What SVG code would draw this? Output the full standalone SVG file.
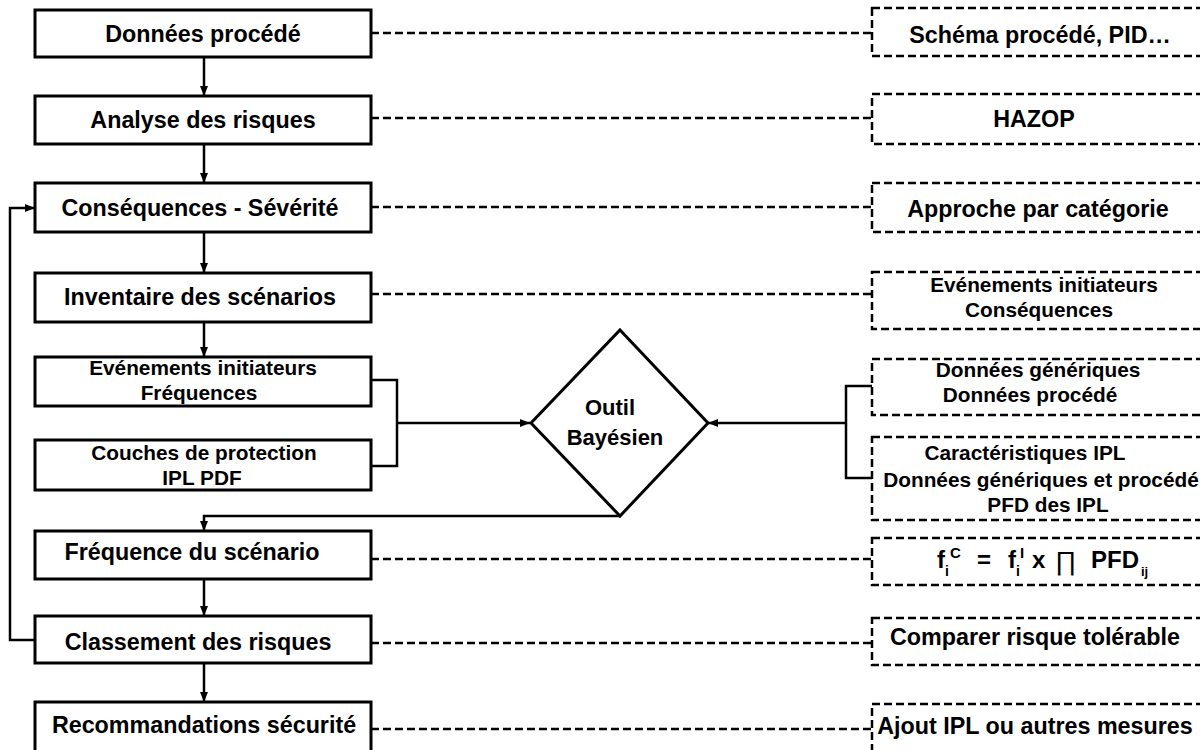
<svg xmlns="http://www.w3.org/2000/svg" width="1200" height="750" viewBox="0 0 1200 750">
<defs>
<marker id="arr" viewBox="0 0 10 10" refX="10" refY="5" markerWidth="10" markerHeight="10" markerUnits="userSpaceOnUse" orient="auto">
<path d="M0,1 L10,5 L0,9 Z" fill="#000"/>
</marker>
<style>
.box{fill:#fff;stroke:#000;stroke-width:3}
.dbox{fill:#fff;stroke:#000;stroke-width:2.5;stroke-dasharray:8 4}
.ln{fill:none;stroke:#000;stroke-width:2.5}
.dl{fill:none;stroke:#000;stroke-width:2.5;stroke-dasharray:8 4}
text{font-family:"Liberation Sans",Arial,sans-serif;font-weight:bold;fill:#000}
.t22{font-size:23.3px;text-anchor:middle}
.t20{font-size:20.8px;text-anchor:middle}
.f{font-size:24px}
.sub{font-size:14px}
</style>
</defs>
<rect width="1200" height="750" fill="#fff"/>

<g id="connectors">
<line class="ln" x1="204" y1="57" x2="204" y2="96" marker-end="url(#arr)"/>
<line class="ln" x1="204" y1="144" x2="204" y2="183" marker-end="url(#arr)"/>
<line class="ln" x1="204" y1="232" x2="204" y2="273" marker-end="url(#arr)"/>
<line class="ln" x1="204" y1="322" x2="204" y2="357" marker-end="url(#arr)"/>
<line class="ln" x1="204" y1="579" x2="204" y2="616" marker-end="url(#arr)"/>
<line class="ln" x1="204" y1="663" x2="204" y2="702" marker-end="url(#arr)"/>
<polyline class="ln" points="35,640 10,640 10,208 35,208" marker-end="url(#arr)"/>
<polyline class="ln" points="371,380 397,380 397,466 371,466"/>
<line class="ln" x1="397" y1="423" x2="530" y2="423" marker-end="url(#arr)"/>
<polyline class="ln" points="620,516 204,516 204,531" marker-end="url(#arr)"/>
<polyline class="ln" points="872,386 846,386 846,478 872,478"/>
<line class="ln" x1="846" y1="423" x2="708" y2="423" marker-end="url(#arr)"/>
<line class="dl" x1="371" y1="33" x2="872" y2="33"/>
<line class="dl" x1="371" y1="118" x2="872" y2="118"/>
<line class="dl" x1="371" y1="207" x2="872" y2="207"/>
<line class="dl" x1="371" y1="294" x2="872" y2="294"/>
<line class="dl" x1="371" y1="559" x2="872" y2="559"/>
<line class="dl" x1="371" y1="643" x2="872" y2="643"/>
<line class="dl" x1="371" y1="729" x2="872" y2="729"/>
</g>

<g id="n1"><rect class="box" x="35" y="10" width="336" height="47"/><text class="t22" x="203" y="42">Données procédé</text></g>
<g id="n2"><rect class="box" x="35" y="96" width="336" height="48"/><text class="t22" x="203" y="128">Analyse  des risques</text></g>
<g id="n3"><rect class="box" x="35" y="183" width="336" height="49"/><text class="t22" x="200" y="216">Conséquences - Sévérité</text></g>
<g id="n4"><rect class="box" x="35" y="273" width="336" height="49"/><text class="t22" x="200" y="305">Inventaire des scénarios</text></g>
<g id="n5"><rect class="box" x="35" y="357" width="336" height="49"/><text class="t20" x="203" y="375">Evénements initiateurs</text><text class="t20" x="199" y="400">Fréquences</text></g>
<g id="n6"><rect class="box" x="35" y="440" width="336" height="50"/><text class="t20" x="204" y="460">Couches de protection</text><text class="t20" x="202" y="485">IPL  PDF</text></g>
<g id="n7"><rect class="box" x="35" y="531" width="336" height="48"/><text class="t22" x="192" y="560">Fréquence du scénario</text></g>
<g id="n8"><rect class="box" x="35" y="616" width="336" height="47"/><text class="t22" x="198" y="650">Classement des risques</text></g>
<g id="n9"><rect class="box" x="35" y="702" width="336" height="50"/><text class="t22" x="204" y="733">Recommandations sécurité</text></g>

<g id="bayes"><polygon class="box" points="620,330 708,423 620,516 531,423"/><text class="t20" x="610" y="415" style="font-size:22px">Outil</text><text class="t20" x="615" y="445" style="font-size:22px">Bayésien</text></g>

<g id="r1"><rect class="dbox" x="872" y="8" width="340" height="48"/><text class="t22" x="1040" y="43">Schéma procédé,  PID…</text></g>
<g id="r2"><rect class="dbox" x="872" y="94" width="340" height="50"/><text class="t22" x="1034" y="127">HAZOP</text></g>
<g id="r3"><rect class="dbox" x="872" y="183" width="340" height="49"/><text class="t22" x="1038" y="217">Approche par catégorie</text></g>
<g id="r4"><rect class="dbox" x="872" y="272" width="340" height="57"/><text class="t20" x="1044" y="292">Evénements initiateurs</text><text class="t20" x="1039" y="317">Conséquences</text></g>
<g id="r5"><rect class="dbox" x="872" y="359" width="340" height="56"/><text class="t20" x="1038" y="377">Données génériques</text><text class="t20" x="1030" y="402">Données procédé</text></g>
<g id="r6"><rect class="dbox" x="872" y="437" width="340" height="83"/><text class="t20" x="1025" y="460">Caractéristiques IPL</text><text class="t20" x="1041" y="487">Données génériques et procédé</text><text class="t20" x="1048" y="512">PFD des IPL</text></g>
<g id="r7"><rect class="dbox" x="872" y="538" width="340" height="47"/>
<text class="f" x="937" y="568">f</text><text class="sub" x="945" y="576">i</text><text class="sub" x="950" y="558" style="font-size:15px">C</text>
<text class="f" x="977" y="568">=</text>
<text class="f" x="1008" y="568">f</text><text class="sub" x="1016" y="576">i</text><text class="sub" x="1020" y="558" style="font-size:15px">I</text>
<text class="f" x="1032" y="568">x</text>
<text x="1055" y="570" style="font-size:26px;font-weight:normal">∏</text>
<text class="f" x="1091" y="568">PFD</text><text class="sub" x="1141" y="576" style="font-size:13px">ij</text>
</g>
<g id="r8"><rect class="dbox" x="872" y="618" width="340" height="47"/><text class="t22" x="1035" y="645">Comparer risque tolérable</text></g>
<g id="r9"><rect class="dbox" x="872" y="704" width="340" height="50"/><text class="t22" x="1035" y="734">Ajout IPL ou autres mesures</text></g>
</svg>
